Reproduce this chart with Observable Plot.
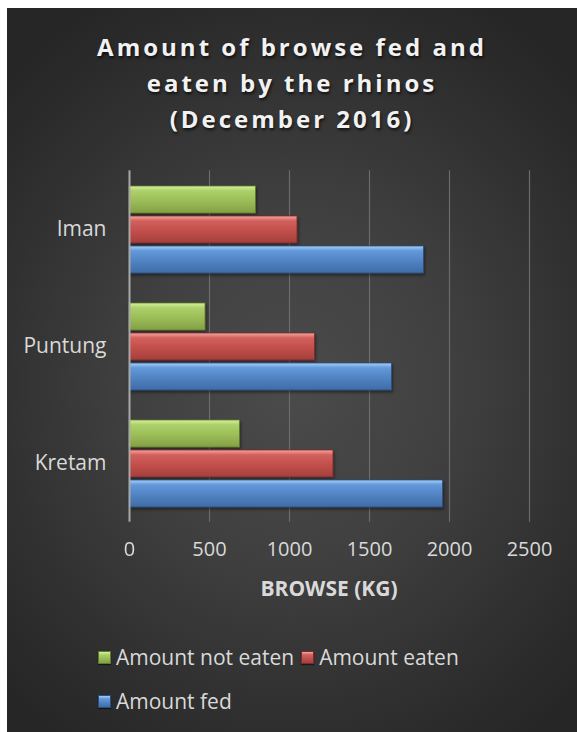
<!DOCTYPE html>
<html>
<head>
<meta charset="utf-8">
<script src="https://cdn.jsdelivr.net/npm/d3@7"></script>
<script src="https://cdn.jsdelivr.net/npm/@observablehq/plot@0.6"></script>
<style>
  html, body { margin: 0; padding: 0; background: #ffffff; }
  #panel {
    position: absolute; left: 7px; top: 8px; width: 570px; height: 724px;
    background: radial-gradient(ellipse 70% 60% at 50% 52%, #4b4b4b 0%, #404040 40%, #2e2e2e 80%, #262626 100%);
    overflow: hidden;
    font-family: "Open Sans", sans-serif;
  }
  #title {
    position: absolute; left: 0; top: 21px; width: 570px; text-align: center;
    color: #f2f2f2; font-weight: bold; font-size: 24px; letter-spacing: 3px; line-height: 36px;
    text-shadow: 1px 2px 3px rgba(0,0,0,0.7);
  }
  #chart { position: absolute; left: -7px; top: 142px; }
  #legend {
    position: absolute; left: 91px; top: 634px; width: 400px;
    display: flex; flex-wrap: wrap; column-gap: 7px; row-gap: 13px;
    color: #d9d9d9; font-size: 21px;
  }
  .item { display: flex; align-items: center; gap: 5px; line-height: 31px; }
  .sw { width: 13px; height: 13px; box-shadow: 0 1px 1px rgba(0,0,0,0.5); }
</style>
</head>
<body>
<div id="panel">
  <div id="title">Amount of browse fed and<br>eaten by the rhinos<br>(December 2016)</div>
  <div id="chart"></div>
  <div id="legend"></div>
</div>
<script>
const categories = ["Iman", "Puntung", "Kretam"];
const seriesNames = ["Amount not eaten", "Amount eaten", "Amount fed"];
const amountNotEaten = [790, 475, 690];
const amountEaten = [1050, 1160, 1275];
const amountFed = [1840, 1640, 1960];
const xTicks = [0, 500, 1000, 1500, 2000, 2500];
const axisTitle = "BROWSE (KG)";
const legendOrder = ["Amount not eaten", "Amount eaten", "Amount fed"];

const gradients = {
  "Amount not eaten": {id: "gGreen", stops: ["#d6f29c", "#acd06a", "#9cbd58", "#83a045"], stroke: "#5f7a2c"},
  "Amount eaten":     {id: "gRed",   stops: ["#f7a7a4", "#d2605c", "#c24f4b", "#a43f3c"], stroke: "#7a2a28"},
  "Amount fed":       {id: "gBlue",  stops: ["#a6d0fa", "#6399da", "#5283c2", "#3f6ca7"], stroke: "#2c4f7d"}
};

const valuesBySeries = [amountNotEaten, amountEaten, amountFed];
const data = categories.flatMap((c, i) =>
  seriesNames.map((s, j) => ({category: c, series: s, value: valuesBySeries[j][i]}))
);

const plot = Plot.plot({
  width: 577,
  height: 460,
  marginLeft: 129,
  marginRight: 48,
  marginTop: 20,
  marginBottom: 89,
  style: {background: "transparent", color: "#d9d9d9", fontFamily: "'Open Sans', sans-serif", overflow: "visible"},
  x: {domain: [0, 2500]},
  fy: {domain: categories, paddingInner: 0.2, paddingOuter: 0.1},
  y: {domain: seriesNames, padding: 0.1, axis: null},
  marks: [
    Plot.ruleX(xTicks.slice(1), {stroke: "#6c6c6c", strokeWidth: 1.2, insetTop: -11.7, insetBottom: -11.7}),
    Plot.barX(data, {
      x: "value", y: "series", fy: "category",
      fill: d => `url(#${gradients[d.series].id})`,
      stroke: d => gradients[d.series].stroke, strokeWidth: 0.8
    }),
    Plot.ruleX([0], {stroke: "#a8a8a8", strokeWidth: 2, insetTop: -11.7, insetBottom: -11.7}),
    Plot.axisX({
      ticks: xTicks, tickFormat: d => String(d), tickSize: 0, tickPadding: 31, fontSize: 20,
      label: null
    }),
    Plot.axisFy({anchor: "left", tickSize: 0, tickPadding: 23, fontSize: 21, label: null})
  ]
});

// gradient definitions for bevelled bars, and a soft shadow
const ns = "http://www.w3.org/2000/svg";
const defs = document.createElementNS(ns, "defs");
for (const key of seriesNames) {
  const g = gradients[key];
  const lg = document.createElementNS(ns, "linearGradient");
  lg.setAttribute("id", g.id);
  lg.setAttribute("x1", "0"); lg.setAttribute("y1", "0");
  lg.setAttribute("x2", "0"); lg.setAttribute("y2", "1");
  const offs = [0, 0.18, 0.55, 1];
  g.stops.forEach((col, k) => {
    const st = document.createElementNS(ns, "stop");
    st.setAttribute("offset", offs[k]);
    st.setAttribute("stop-color", col);
    lg.appendChild(st);
  });
  defs.appendChild(lg);
}
const filter = document.createElementNS(ns, "filter");
filter.setAttribute("id", "barShadow");
filter.setAttribute("x", "-5%"); filter.setAttribute("y", "-20%");
filter.setAttribute("width", "110%"); filter.setAttribute("height", "150%");
const ds = document.createElementNS(ns, "feDropShadow");
ds.setAttribute("dx", "1"); ds.setAttribute("dy", "2");
ds.setAttribute("stdDeviation", "1.5");
ds.setAttribute("flood-color", "#000"); ds.setAttribute("flood-opacity", "0.45");
filter.appendChild(ds);
defs.appendChild(filter);
plot.insertBefore(defs, plot.firstChild);
plot.querySelectorAll('g[aria-label="bar"]').forEach(g => g.setAttribute("filter", "url(#barShadow)"));

// axis title (part of the svg)
const t = document.createElementNS(ns, "text");
t.setAttribute("x", 129 + (577 - 129 - 48) / 2);
t.setAttribute("y", 446);
t.setAttribute("text-anchor", "middle");
t.setAttribute("font-weight", "bold");
t.setAttribute("font-size", "21");
t.setAttribute("fill", "#d9d9d9");
t.textContent = axisTitle;
plot.appendChild(t);

document.getElementById("chart").appendChild(plot);

const legend = document.getElementById("legend");
for (const name of legendOrder) {
  const g = gradients[name];
  const item = document.createElement("div");
  item.className = "item";
  const sw = document.createElement("span");
  sw.className = "sw";
  sw.style.background = `linear-gradient(${g.stops[0]}, ${g.stops[1]} 25%, ${g.stops[3]})`;
  sw.style.border = `1px solid ${g.stroke}`;
  sw.style.boxSizing = "border-box";
  const label = document.createElement("span");
  label.textContent = name;
  item.appendChild(sw);
  item.appendChild(label);
  legend.appendChild(item);
}
</script>
</body>
</html>
